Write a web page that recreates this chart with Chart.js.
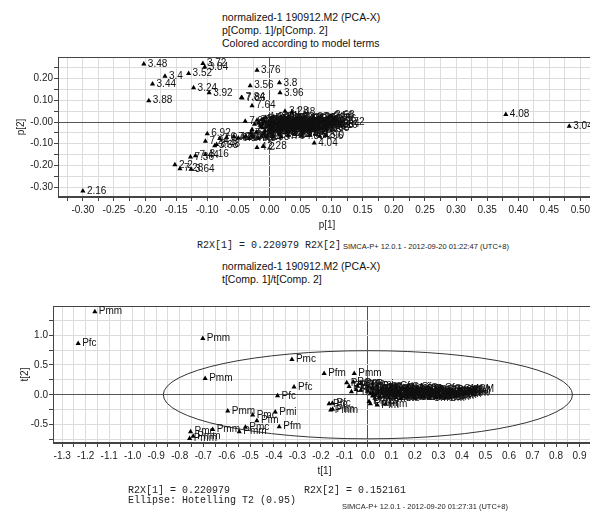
<!DOCTYPE html>
<html lang="en">
<head>
<meta charset="UTF-8">
<title>normalized-1 190912.M2 (PCA-X)</title>
<script src="https://cdn.jsdelivr.net/npm/chart.js@4"></script>
<style>
  body { margin: 0; width: 590px; height: 511px; overflow: hidden; background: #fff; position: relative;
         font-family: "Liberation Sans", Arial, sans-serif; color: #111; }
  .title { position: absolute; left: 222px; font-size: 10.5px; line-height: 13px; white-space: nowrap; }
  .mono { position: absolute; font-family: "Liberation Mono", "Courier New", monospace; font-size: 10px; line-height: 10px; white-space: pre; color: #222; }
  .simca { position: absolute; font-size: 7.5px; line-height: 9px; white-space: nowrap; color: #222; }
  canvas { position: absolute; left: 0; }
</style>
</head>
<body>
<div class="title" style="top:11px">normalized-1 190912.M2 (PCA-X)<br>p[Comp. 1]/p[Comp. 2]<br>Colored according to model terms</div>
<canvas id="loadings" width="600" height="190" style="top:50px"></canvas>
<div class="mono" style="left:197px; top:241px">R2X[1] = 0.220979 R2X[2]</div>
<div class="simca" style="left:343px; top:242px">SIMCA-P+ 12.0.1 - 2012-09-20 01:22:47 (UTC+8)</div>

<div class="title" style="top:260px">normalized-1 190912.M2 (PCA-X)<br>t[Comp. 1]/t[Comp. 2]</div>
<canvas id="scores" width="600" height="190" style="top:296px"></canvas>
<div class="mono" style="left:128px; top:486px">R2X[1] = 0.220979</div>
<div class="mono" style="left:304px; top:486px">R2X[2] = 0.152161</div>
<div class="mono" style="left:128px; top:496px">Ellipse: Hotelling T2 (0.95)</div>
<div class="simca" style="left:342px; top:502px">SIMCA-P+ 12.0.1 - 2012-09-20 01:27:31 (UTC+8)</div>

<script>
// ---- loadings p[1]/p[2] : variables that stand out ----
var loadOutP1 = [-0.202, -0.107, -0.104, -0.168, -0.130, -0.188, -0.122, -0.097, -0.194, -0.020,
                 -0.031, -0.045, -0.044, -0.028, 0.016, 0.017, 0.025, 0.036, -0.039, -0.100,
                 -0.103, -0.088, -0.085, -0.020, -0.010, 0.072, 0.380, 0.482, 0.115, 0.099,
                 0.097, 0.091, -0.152, -0.144, -0.126, -0.127, -0.119, -0.103, -0.300];
var loadOutP2 = [0.267, 0.269, 0.253, 0.210, 0.223, 0.175, 0.157, 0.134, 0.098, 0.238,
                 0.167, 0.113, 0.110, 0.075, 0.180, 0.134, 0.049, 0.046, 0.003, -0.054,
                 -0.089, -0.109, -0.104, -0.117, -0.112, -0.097, 0.034, -0.020, 0.000, 0.029,
                 0.026, -0.031, -0.197, -0.215, -0.217, -0.161, -0.155, -0.149, -0.317];
var loadOutLabels = ['3.48', '3.72', '3.84', '3.4', '3.52', '3.44', '3.24', '3.92', '3.88', '3.76',
                     '3.56', '7.84', '7.86', '7.64', '3.8', '3.96', '3.28', '1.48', '7.92', '6.92',
                     '7.24', '3.68', '8.48', '4.2', '2.28', '4.04', '4.08', '3.04', '2.72', '2.68',
                     '2.56', '2.08', '2.2', '7.28', '3.64', '7.36', '7.44', '3.16', '2.16'];

// ---- loadings : dense group around the origin ----
var loadCluP1 = [-0.006, 0.007, 0.019, 0.031, 0.044, 0.057, 0.069, 0.082,
                 -0.013, 0.000, 0.011, 0.019, 0.028, 0.037, 0.049, 0.061, 0.074, 0.088, 0.102,
                 -0.017, -0.004, 0.006, 0.014, 0.023, 0.033, 0.042, 0.054, 0.066, 0.079, 0.093, 0.107,
                 -0.015, -0.002, 0.009, 0.017, 0.026, 0.036, 0.047, 0.059, 0.071, 0.085, 0.098,
                 -0.011, 0.003, 0.013, 0.024, 0.034, 0.045, 0.057, 0.069, 0.082,
                 -0.007, 0.006, 0.018, 0.030, 0.042, 0.055, 0.067,
                 -0.030, -0.021, -0.009, 0.004, 0.016, 0.028, 0.040, 0.053,
                 -0.028, -0.013, -0.024, -0.020,
                 -0.038, -0.029, -0.006, 0.006, 0.019, 0.030, 0.041, 0.051, 0.065, 0.081, 0.091,
                 -0.080, -0.069, -0.057, -0.050, -0.041, -0.033, -0.026, -0.018, -0.013,
                 -0.010, 0.003, 0.014, 0.025, 0.038, 0.051, 0.064, 0.077, 0.093,
                 -0.008, 0.004, 0.016, 0.030, 0.044, 0.058, 0.071, 0.084, 0.097,
                 -0.011, 0.001, 0.012, 0.021, 0.031, 0.041, 0.052, 0.064, 0.077, 0.090, 0.104,
                 -0.006, 0.006, 0.020, 0.030, 0.040, 0.052, 0.064, 0.076, 0.090,
                 0.000, 0.011, 0.022, 0.036, 0.049, 0.062, 0.075];
var loadCluP2 = [0.021, 0.024, 0.018, 0.026, 0.019, 0.022, 0.017, 0.021,
                 0.009, 0.006, 0.011, 0.004, 0.010, 0.006, 0.012, 0.005, 0.009, 0.007, 0.012,
                 -0.003, -0.006, -0.002, -0.007, -0.001, -0.005, -0.003, -0.008, -0.002, -0.006, -0.004, -0.009,
                 -0.015, -0.018, -0.013, -0.019, -0.014, -0.017, -0.012, -0.019, -0.015, -0.018, -0.014,
                 -0.027, -0.030, -0.025, -0.031, -0.026, -0.029, -0.032, -0.026, -0.030,
                 -0.040, -0.043, -0.038, -0.044, -0.039, -0.042, -0.037,
                 -0.050, -0.046, -0.053, -0.049, -0.054, -0.050, -0.055, -0.051,
                 -0.035, -0.022, -0.010, 0.008,
                 -0.065, -0.062, -0.068, -0.063, -0.067, -0.061, -0.058, -0.064, -0.060, -0.066, -0.062,
                 -0.076, -0.071, -0.068, -0.074, -0.070, -0.076, -0.069, -0.075, -0.066,
                 0.014, 0.016, 0.012, 0.015, 0.013, 0.016, 0.011, 0.014, 0.017,
                 0.002, 0.000, 0.003, 0.001, 0.004, -0.001, 0.002, 0.000, 0.003,
                 -0.010, -0.012, -0.009, -0.011, -0.008, -0.010, -0.012, -0.009, -0.011, -0.010, -0.013,
                 -0.022, -0.024, -0.021, -0.023, -0.020, -0.024, -0.022, -0.021, -0.023,
                 -0.034, -0.036, -0.033, -0.035, -0.032, -0.036, -0.034];
var loadCluLabels = ['1.32', '1.28', '1.36', '1.4', '1.44', '3.32', '3.36', '2.64',
                     '0.84', '0.88', '0.92', '0.96', '1.0', '1.04', '1.08', '1.12', '1.16', '2.6', '2.76',
                     '1.2', '1.26', '1.52', '1.56', '1.6', '1.64', '1.68', '1.72', '1.76', '1.8', '2.8', '2.84',
                     '1.84', '1.88', '1.92', '1.96', '2.0', '2.04', '2.12', '2.24', '2.32', '2.36', '2.88',
                     '2.4', '2.44', '2.52', '2.92', '2.96', '3.0', '3.08', '3.12', '3.2',
                     '4.0', '4.12', '4.16', '4.28', '4.32', '4.36', '4.4',
                     '7.08', '7.4', '4.44', '4.48', '4.52', '4.56', '4.6', '4.64',
                     '7.52', '7.56', '7.6', '7.68',
                     '6.96', '7.48', '4.68', '4.72', '4.76', '4.8', '1.24', '4.88', '4.92', '4.96', '5.0',
                     '7.0', '6.72', '7.16', '6.8', '7.04', '6.76', '7.12', '6.84', '7.2',
                     '5.04', '5.08', '5.12', '5.16', '5.2', '5.24', '5.28', '5.32', '5.36',
                     '5.4', '5.44', '5.48', '5.52', '5.56', '5.6', '5.64', '5.68', '5.72',
                     '5.76', '5.8', '5.84', '5.88', '5.92', '5.96', '6.0', '6.04', '6.08', '6.12', '6.16',
                     '6.2', '6.24', '6.28', '6.32', '6.36', '6.4', '6.44', '6.48', '6.52',
                     '6.56', '6.6', '6.64', '6.68', '0.8', '0.96', '1.12'];

// ---- scores t[1]/t[2] : observations away from the centre ----
var scoreOutT1 = [-1.161, -1.232, -0.702, -0.692, -0.384, -0.323, -0.186, -0.058, -0.314, 0.453,
                  -0.596, -0.490, -0.472, -0.394, -0.377, -0.521, -0.547, -0.660, -0.754, -0.743,
                  -0.758, -0.165, -0.151, -0.158, -0.150];
var scoreOutT2 = [1.395, 0.859, 0.944, 0.271, -0.017, 0.593, 0.356, 0.356, 0.130, 0.085,
                  -0.271, -0.339, -0.435, -0.288, -0.537, -0.547, -0.621, -0.582, -0.621, -0.695,
                  -0.734, -0.153, -0.141, -0.254, -0.245];
var scoreOutLabels = ['Pmm', 'Pfc', 'Pmm', 'Pmm', 'Pfc', 'Pmc', 'Pfm', 'Pmm', 'Pfc', 'CM',
                      'Pmm', 'Pmc', 'Pfm', 'Pmi', 'Pfm', 'Pmc', 'Pmm', 'Pmm', 'Pmc', 'Pmm',
                      'Pmm', 'Pfc', 'Pfc', 'Pmm', 'Pfm'];

// ---- scores : main group ----
var scoreCluT1 = [-0.090, -0.062, -0.030, 0.020,
                  -0.080, -0.045, 0.000, 0.040, 0.080, 0.120, 0.170,
                  -0.050, 0.020, 0.060, 0.100, 0.140, 0.190, 0.230, 0.270, 0.310, 0.350, 0.390, 0.430,
                  -0.070, 0.000, 0.050, 0.090, 0.130, 0.170, 0.210, 0.250, 0.290, 0.330, 0.370, 0.410,
                  0.010, 0.040, 0.080, 0.120, 0.160, 0.200, 0.240, 0.280, 0.320, 0.360, 0.400,
                  0.020, 0.070, 0.110, 0.150, 0.190, 0.230, 0.270, 0.310, 0.350,
                  0.030, 0.090, 0.140, 0.200, 0.260, 0.330,
                  0.005, 0.010, 0.040, 0.075,
                  0.020, 0.060, 0.100, 0.150, 0.210, 0.250,
                  -0.030, 0.040, 0.080, 0.120, 0.160, 0.200, 0.240, 0.280, 0.320, 0.360, 0.400, 0.440,
                  0.020, 0.060, 0.100, 0.140, 0.180, 0.220, 0.260, 0.300, 0.340, 0.380, 0.420,
                  0.030, 0.100, 0.140, 0.180, 0.220, 0.260, 0.300, 0.340, 0.380,
                  0.050, 0.120, 0.170, 0.240, 0.290, 0.370];
var scoreCluT2 = [0.200, 0.215, 0.190, 0.180,
                  0.140, 0.150, 0.130, 0.145, 0.125, 0.140, 0.120,
                  0.090, 0.100, 0.085, 0.105, 0.090, 0.100, 0.085, 0.095, 0.110, 0.090, 0.100, 0.080,
                  0.050, 0.060, 0.045, 0.065, 0.050, 0.060, 0.045, 0.055, 0.040, 0.060, 0.045, 0.055,
                  0.015, 0.025, 0.010, 0.020, 0.005, 0.020, 0.010, 0.015, 0.000, 0.020, 0.010,
                  -0.020, -0.025, -0.015, -0.030, -0.020, -0.035, -0.020, -0.030, -0.040,
                  -0.060, -0.055, -0.065, -0.050, -0.060, -0.055,
                  -0.115, -0.150, -0.170, -0.160,
                  0.120, 0.115, 0.125, 0.110, 0.120, 0.115,
                  0.075, 0.080, 0.070, 0.075, 0.080, 0.070, 0.075, 0.065, 0.080, 0.070, 0.075, 0.065,
                  0.035, 0.030, 0.040, 0.030, 0.035, 0.025, 0.035, 0.030, 0.025, 0.035, 0.030,
                  0.000, 0.005, -0.005, 0.000, -0.005, 0.000, -0.010, -0.005, -0.010,
                  -0.040, -0.045, -0.040, -0.035, -0.045, -0.030];
var scoreCluLabels = ['Pmm', 'Pmm', 'Pmc', 'Pmi',
                      'Pfc', 'Pmm', 'Cfm', 'Cmc', 'Cmm', 'Cfc', 'Cmi',
                      'Pfm', 'CM', 'Cfm', 'Cmm', 'Cmc', 'Cfc', 'CM', 'Cmi', 'Cfm', 'Cmm', 'CM', 'CM',
                      'Pmm', 'Cmc', 'Cfc', 'Cmm', 'Cfm', 'Cmi', 'CM', 'Cmc', 'Cfc', 'Cmm', 'CM', 'Cfm',
                      'Cmm', 'Cfm', 'CM', 'Cmc', 'Cfc', 'Cmm', 'Cmi', 'CM', 'Cfm', 'Cmm', 'CM',
                      'Pfm', 'Cmc', 'Cfc', 'Cmm', 'CM', 'Cfm', 'Cmi', 'CM', 'Cm',
                      'Pmm', 'Cmm', 'Cfc', 'CM', 'Cmc', 'CM',
                      'Pfm', 'Pmm', 'Pfm', 'Pfm',
                      'Cmm', 'Cfc', 'Cmi', 'CM', 'Cfm', 'Cmc',
                      'Pmm', 'CM', 'Cfm', 'Cmm', 'Cmc', 'Cfc', 'CM', 'Cmi', 'Cfm', 'Cmm', 'CM', 'CM',
                      'Cmc', 'Cfc', 'Cmm', 'Cfm', 'Cmi', 'CM', 'Cmc', 'Cfc', 'Cmm', 'CM', 'Cfm',
                      'Pfm', 'Cmc', 'Cfc', 'Cmm', 'CM', 'Cfm', 'Cmi', 'CM', 'Cm',
                      'Pmm', 'Cmm', 'Cfc', 'CM', 'Cmc', 'CM'];

// Hotelling T2 (0.95) ellipse semi-axes
var ellipseT1 = 0.87;
var ellipseT2 = 0.74;

var fontFamily = '"Liberation Sans", Arial, sans-serif';

function toPoints(xs, ys) {
    return xs.map(function (x, i) { return { x: x, y: ys[i] }; });
}

function markSet(xs, ys, labels) {
    return {
        data: toPoints(xs, ys),
        pointLabels: labels,
        pointStyle: 'triangle',
        pointRadius: 3,
        backgroundColor: '#000',
        borderColor: '#000',
        borderWidth: 0
    };
}

// label text to the right of every triangle
var pointLabelPlugin = {
    id: 'pointLabels',
    afterDatasetsDraw: function (chart) {
        var ctx = chart.ctx;
        ctx.save();
        ctx.font = '10px ' + fontFamily;
        ctx.fillStyle = '#111';
        ctx.textBaseline = 'middle';
        chart.data.datasets.forEach(function (ds, i) {
            chart.getDatasetMeta(i).data.forEach(function (pt, j) {
                ctx.fillText(ds.pointLabels[j], pt.x + 4, pt.y);
            });
        });
        ctx.restore();
    }
};

// box round the plot area
var framePlugin = {
    id: 'frame',
    beforeDatasetsDraw: function (chart) {
        var a = chart.chartArea, ctx = chart.ctx;
        ctx.save();
        ctx.strokeStyle = '#444';
        ctx.lineWidth = 1;
        ctx.strokeRect(a.left + 0.5, a.top + 0.5, a.right - a.left - 1, a.bottom - a.top - 1);
        ctx.restore();
    }
};

var ellipsePlugin = {
    id: 'hotelling',
    beforeDatasetsDraw: function (chart) {
        var xs = chart.scales.x, ys = chart.scales.y, ctx = chart.ctx;
        var cx = xs.getPixelForValue(0), cy = ys.getPixelForValue(0);
        var rx = xs.getPixelForValue(ellipseT1) - cx;
        var ry = cy - ys.getPixelForValue(ellipseT2);
        ctx.save();
        ctx.beginPath();
        ctx.ellipse(cx, cy, rx, ry, 0, 0, 2 * Math.PI);
        ctx.strokeStyle = '#333';
        ctx.lineWidth = 1;
        ctx.stroke();
        ctx.restore();
    }
};

function axis(o) {
    return {
        type: 'linear',
        min: o.min,
        max: o.max,
        ticks: {
            stepSize: o.step,
            autoSkip: false,
            includeBounds: false,
            maxRotation: 0,
            padding: o.pad,
            color: '#222',
            font: { size: 10, family: fontFamily },
            callback: function (v) {
                var k = v / o.labelStep;
                return Math.abs(k - Math.round(k)) < 1e-6 ? o.fmt(v) : '';
            }
        },
        grid: {
            color: function (c) {
                return (c.tick && Math.abs(c.tick.value) < 1e-9) ? '#555' : '#dcdcdc';
            },
            tickColor: '#444',
            tickLength: 4
        },
        border: { color: '#444' },
        title: {
            display: true,
            text: o.title,
            color: '#222',
            font: { size: 10, family: fontFamily },
            padding: o.titlePad
        },
        afterFit: function (s) {
            if (s.isHorizontal()) { s.height = o.size; } else { s.width = o.size; }
        }
    };
}

new Chart(document.getElementById('loadings'), {
    type: 'scatter',
    data: {
        datasets: [
            markSet(loadCluP1, loadCluP2, loadCluLabels),
            markSet(loadOutP1, loadOutP2, loadOutLabels)
        ]
    },
    options: {
        responsive: false,
        animation: false,
        layout: { padding: { top: 7, left: 0, right: 0, bottom: 0 } },
        plugins: { legend: { display: false }, tooltip: { enabled: false } },
        scales: {
            x: axis({ min: -0.34, max: 0.525, step: 0.025, labelStep: 0.05, pad: 3, size: 43,
                      title: 'p[1]', titlePad: { top: 0, bottom: 9 },
                      fmt: function (v) { return v.toFixed(2); } }),
            y: axis({ min: -0.345, max: 0.299, step: 0.05, labelStep: 0.1, pad: 1, size: 58,
                      title: 'p[2]', titlePad: { top: 15, bottom: 0 },
                      fmt: function (v) { return Math.abs(v) < 1e-9 ? '-0.00' : v.toFixed(2); } })
        }
    },
    plugins: [framePlugin, pointLabelPlugin]
});

new Chart(document.getElementById('scores'), {
    type: 'scatter',
    data: {
        datasets: [
            markSet(scoreCluT1, scoreCluT2, scoreCluLabels),
            markSet(scoreOutT1, scoreOutT2, scoreOutLabels)
        ]
    },
    options: {
        responsive: false,
        animation: false,
        layout: { padding: { top: 10, left: 0, right: 0, bottom: 0 } },
        plugins: { legend: { display: false }, tooltip: { enabled: false } },
        scales: {
            x: axis({ min: -1.339, max: 0.97, step: 0.05, labelStep: 0.1, pad: 3, size: 43,
                      title: 't[1]', titlePad: { top: 0, bottom: 9 },
                      fmt: function (v) { return v.toFixed(1); } }),
            y: axis({ min: -0.81, max: 1.49, step: 0.25, labelStep: 0.5, pad: 1, size: 53,
                      title: 't[2]', titlePad: { top: 19, bottom: 0 },
                      fmt: function (v) { return v.toFixed(1); } })
        }
    },
    plugins: [framePlugin, ellipsePlugin, pointLabelPlugin]
});
</script>
</body>
</html>
